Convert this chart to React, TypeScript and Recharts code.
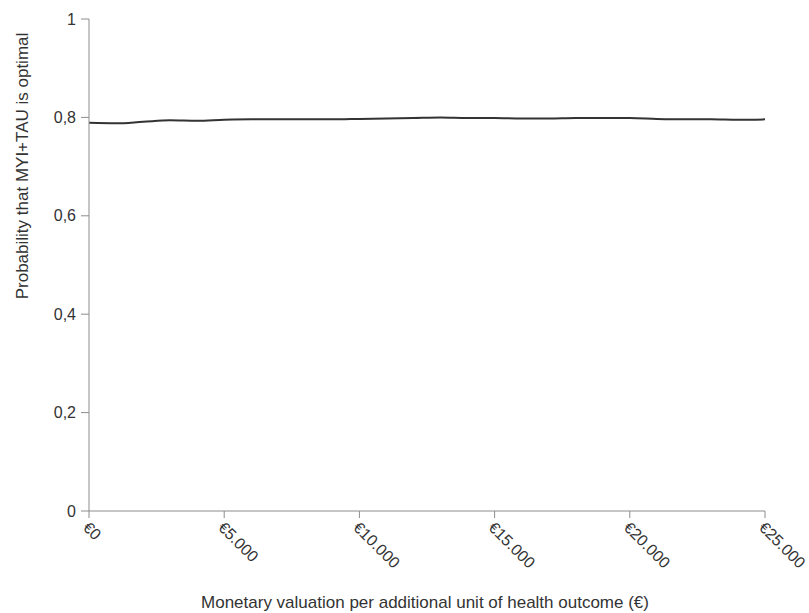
import React from 'react';
import { LineChart, Line, XAxis, YAxis } from 'recharts';

// Willingness-to-pay thresholds (€) and probability that MYI+TAU is optimal
const wtpValues = [
    0, 1000, 2000, 3000, 4000, 5000, 6000, 7000, 8000, 9000, 10000, 11000, 12000,
    13000, 14000, 15000, 16000, 17000, 18000, 19000, 20000, 21000, 22000, 23000, 24000, 25000,
];
const probOptimal = [
    0.789, 0.788, 0.791, 0.794, 0.793, 0.795, 0.796, 0.796, 0.796, 0.796, 0.797, 0.798, 0.799,
    0.8, 0.799, 0.799, 0.798, 0.798, 0.799, 0.799, 0.799, 0.797, 0.796, 0.796, 0.795, 0.796,
];
const xTicks = [0, 5000, 10000, 15000, 20000, 25000];
const yTicks = [0, 0.2, 0.4, 0.6, 0.8, 1];

const xTitle = 'Monetary valuation per additional unit of health outcome (€)';
const yTitle = 'Probability that MYI+TAU is optimal';

const chartData = wtpValues.map((wtp, i) => ({ wtp, prob: probOptimal[i] }));

const FONT = 'Arial, "Liberation Sans", sans-serif';
const TEXT = '#333333';
const AXIS = '#8c8c8c';

const euro = (v: number) => '€' + String(v).replace(/\B(?=(\d{3})+(?!\d))/g, '.');
const decimalComma = (v: number) => String(Math.round(v * 10) / 10).replace('.', ',');

const XTick = (props: any) => {
    const { x, y, payload } = props;
    return (
        <g transform={`translate(${x},${y})`}>
            <text
                transform="rotate(45)"
                x={1}
                y={0}
                dy={11}
                textAnchor="start"
                fill={TEXT}
                fontSize={16}
                fontFamily={FONT}
            >
                {euro(payload.value)}
            </text>
        </g>
    );
};

const YTitle = (props: any) => {
    const { viewBox } = props;
    const cx = viewBox.x + 22;
    const cy = viewBox.y + 147;
    return (
        <text
            x={cx}
            y={cy}
            transform={`rotate(-90, ${cx}, ${cy})`}
            textAnchor="middle"
            dominantBaseline="central"
            fill={TEXT}
            fontSize={17}
            fontFamily={FONT}
        >
            {yTitle}
        </text>
    );
};

const XTitle = (props: any) => {
    const { viewBox } = props;
    const cx = viewBox.x + viewBox.width / 2 - 2;
    return (
        <text
            x={cx}
            y={viewBox.y + 97}
            textAnchor="middle"
            fill={TEXT}
            fontSize={17}
            fontFamily={FONT}
        >
            {xTitle}
        </text>
    );
};

export default function App() {
    return (
        <div style={{ position: 'absolute', left: 0, top: 0, background: '#fff' }}>
            <LineChart
                width={809}
                height={613}
                data={chartData}
                margin={{ top: 19, right: 44, left: 0, bottom: 0 }}
            >
                <XAxis
                    dataKey="wtp"
                    type="number"
                    domain={[0, 25000]}
                    ticks={xTicks}
                    height={102}
                    stroke={AXIS}
                    tickSize={7}
                    tickLine={{ stroke: AXIS }}
                    tick={<XTick />}
                    label={<XTitle />}
                />
                <YAxis
                    type="number"
                    domain={[0, 1]}
                    ticks={yTicks}
                    width={89}
                    stroke={AXIS}
                    tickSize={8}
                    tickMargin={5}
                    tickFormatter={decimalComma}
                    tick={{ fill: TEXT, fontSize: 16, fontFamily: FONT }}
                    label={<YTitle />}
                />
                <Line
                    type="monotone"
                    dataKey="prob"
                    stroke="#333333"
                    strokeWidth={2}
                    dot={false}
                    isAnimationActive={false}
                />
            </LineChart>
        </div>
    );
}
